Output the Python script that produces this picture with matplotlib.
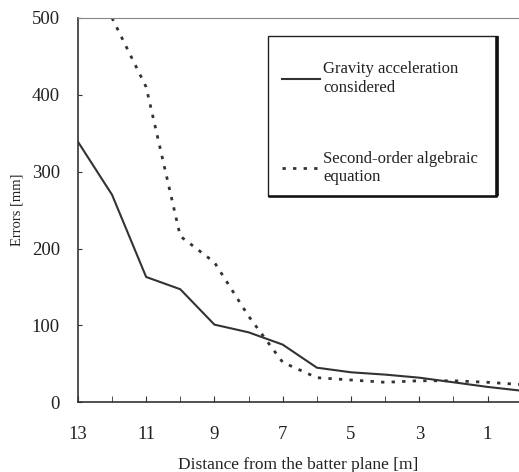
import matplotlib
matplotlib.use("Agg")
import matplotlib.pyplot as plt
from matplotlib.ticker import MultipleLocator
from matplotlib.patches import Rectangle
from matplotlib.lines import Line2D

distance_gravity = [13, 12, 11, 10, 9, 8, 7, 6, 5, 4, 3, 2, 1, 0]
errors_gravity = [339, 270, 163, 147, 101, 91, 75, 45, 39, 36, 32, 26, 20, 15]

distance_second = [12, 11, 10, 9, 8, 7, 6, 5, 4, 3, 2, 1, 0]
errors_second = [500, 410, 216, 182, 112, 52, 32, 29, 26, 28, 28, 26, 23]

labels = ["Gravity acceleration\nconsidered", "Second-order algebraic\nequation"]
xticks = [13, 11, 9, 7, 5, 3, 1]
yticks = [0, 100, 200, 300, 400, 500]

plt.rcParams['font.family'] = ['Liberation Serif', 'DejaVu Serif']

fig = plt.figure(figsize=(5.19, 4.72), dpi=100)
ax = fig.add_axes([0.150, 0.1477, 0.850, 0.8145])

col = '#333333'
ax.plot(distance_gravity, errors_gravity, color=col, lw=1.5, label=labels[0])
ax.plot(distance_second, errors_second, color=col, lw=2.0,
        linestyle=(0, (1.2, 2.6)), label=labels[1])

ax.set_xlim(13, 0.08)
ax.set_ylim(0, 500)
ax.set_xticks(xticks)
ax.xaxis.set_minor_locator(MultipleLocator(1))
ax.set_yticks(yticks)
ax.tick_params(axis='both', which='both', direction='in', colors=col,
               labelcolor='#222222', labelsize=13.5)
ax.tick_params(axis='x', which='major', length=4, pad=17)
ax.tick_params(axis='x', which='minor', length=4)
ax.tick_params(axis='y', length=3, pad=13)
ax.spines['right'].set_visible(False)
for s in ['left', 'bottom']:
    ax.spines[s].set_color(col)
    ax.spines[s].set_linewidth(1.2)
ax.spines['top'].set_color('#888888')
ax.spines['top'].set_linewidth(0.8)

ax.set_xlabel("Distance from the batter plane [m]", fontsize=12.5, color='#222222', labelpad=10)
ax.set_ylabel("Errors [mm]", fontsize=10.5, color='#222222', labelpad=6)

# legend frame (drawn separately to match the scanned box)
x0, y0, x1, y1 = 0.431, 0.537, 0.950, 0.953
ax.add_patch(Rectangle((x0, y0), x1 - x0, y1 - y0, transform=ax.transAxes,
                       facecolor='white', edgecolor='#222222', lw=1.0, zorder=4))
ax.add_line(Line2D([x1, x1], [y0, y1], transform=ax.transAxes, color='#111111',
                   lw=2.6, solid_capstyle='butt', zorder=5))
ax.add_line(Line2D([x0, x1], [y0, y0], transform=ax.transAxes, color='#111111',
                   lw=1.8, solid_capstyle='butt', zorder=5))

leg = ax.legend(loc='upper left', bbox_to_anchor=(0.462, 0.887), fontsize=12,
                frameon=False, handlelength=2.3, handletextpad=0.2,
                labelspacing=3.3, borderpad=0, borderaxespad=0)
leg.set_zorder(6)
for t in leg.get_texts():
    t.set_color('#222222')

fig.savefig("out.png", dpi=100)
